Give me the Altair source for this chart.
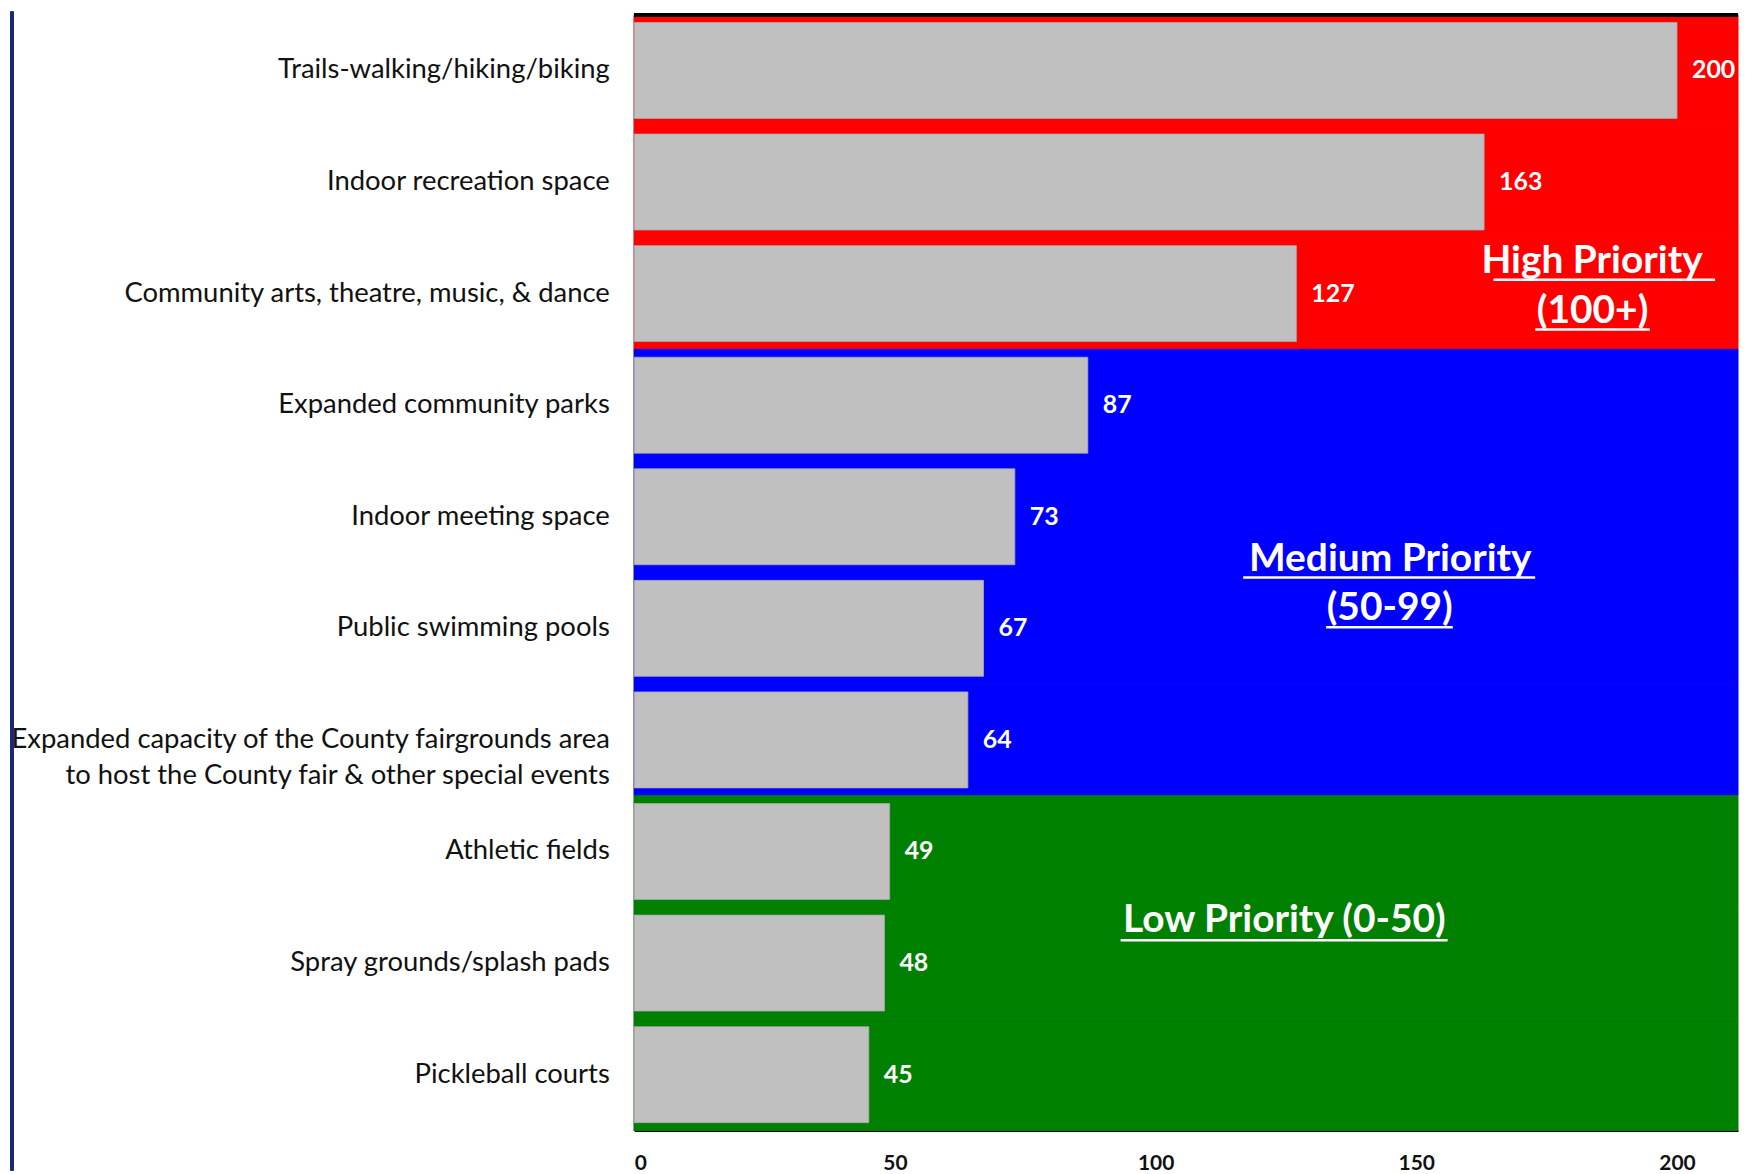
import altair as alt
import pandas as pd

# ---------------- data ----------------
categories = [
    "Trails-walking/hiking/biking",
    "Indoor recreation space",
    "Community arts, theatre, music, & dance",
    "Expanded community parks",
    "Indoor meeting space",
    "Public swimming pools",
    "Expanded capacity of the County fairgrounds area|to host the County fair & other special events",
    "Athletic fields",
    "Spray grounds/splash pads",
    "Pickleball courts",
]
values = [200, 163, 127, 87, 73, 67, 64, 49, 48, 45]
priority = ["High", "High", "High", "Medium", "Medium", "Medium", "Medium", "Low", "Low", "Low"]
priority_levels = ["High", "Medium", "Low"]
priority_colors = ["#FF0000", "#0000FF", "#008000"]
x_ticks = [0, 50, 100, 150, 200]
X_MAX = 211.7

# annotation text: (text, x centre in value units, anchor category index, pixel dy of baseline)
annot_text = [
    ("High Priority", 183.7, 2, -21),
    ("(100+)", 183.8, 2, 29),
    ("Medium Priority", 145.0, 5, -58),
    ("(50-99)", 144.9, 5, -8),
    ("Low Priority (0-50)", 124.7, 8, -31),
]
# underlines: (x start, x end, anchor category index, pixel dy)
annot_lines = [
    (164.8, 207.3, 2, -14),
    (172.8, 194.8, 2, 36),
    (116.8, 172.8, 5, -51),
    (132.7, 157.0, 5, -1),
    (93.3, 156.0, 8, -23),
]

W, H = 1107, 1119
FONT = "Lato"

df = pd.DataFrame({"cat": categories, "value": values, "priority": priority})

yenc = alt.Y(
    "cat:N",
    sort=categories,
    scale=alt.Scale(paddingInner=0, paddingOuter=0),
    axis=alt.Axis(
        title=None,
        ticks=False,
        domain=True,
        domainColor="#303030",
        domainWidth=2,
        labelPadding=25,
        labelFont=FONT,
        labelFontSize=27.5,
        labelColor="#111111",
        labelLimit=0,
        labelLineHeight=36,
        labelExpr="split(datum.label, '|')",
        minExtent=625,
        maxExtent=625,
    ),
)
xscale = alt.Scale(domain=[0, X_MAX], nice=False, zero=True)
xaxis = alt.Axis(
    title=None,
    values=x_ticks,
    ticks=False,
    grid=False,
    domainColor="black",
    domainWidth=2,
    labelFont=FONT,
    labelFontWeight="bold",
    labelFontSize=21,
    labelColor="#111111",
    labelPadding=22,
)

base = alt.Chart(df)
band_scale = alt.Scale(domain=priority_levels, range=priority_colors)

bands = base.mark_bar(opacity=1, strokeWidth=1).encode(
    y=yenc,
    x=alt.X("zero:Q", scale=xscale, axis=xaxis),
    x2=alt.datum(X_MAX),
    color=alt.Color("priority:N", scale=band_scale, legend=None),
    stroke=alt.Stroke("priority:N", scale=band_scale, legend=None),
).transform_calculate(zero="0")

bars = base.mark_bar(
    color="#C0C0C0", stroke="#A8A8A8", strokeWidth=0.8,
    height=alt.RelativeBandSize(0.86),
).encode(
    y=alt.Y("cat:N", sort=categories),
    x=alt.X("value:Q", scale=xscale),
)

labels = base.mark_text(
    align="left", baseline="middle", dx=15, color="white",
    font=FONT, fontWeight="bold", fontSize=25,
).encode(
    y=alt.Y("cat:N", sort=categories),
    x=alt.X("value:Q", scale=xscale),
    text="value:Q",
)

layers = [bands, bars, labels]

for txt, xc, ci, dy in annot_text:
    d = pd.DataFrame({"t": [txt], "x": [xc], "cat": [categories[ci]]})
    layers.append(
        alt.Chart(d).mark_text(
            align="center", baseline="alphabetic", dy=dy, color="white",
            font=FONT, fontWeight="bold", fontSize=39,
        ).encode(
            x=alt.X("x:Q", scale=xscale),
            y=alt.Y("cat:N", sort=categories),
            text="t:N",
        )
    )

for x1, x2, ci, dy in annot_lines:
    d = pd.DataFrame({"x1": [x1], "x2": [x2], "cat": [categories[ci]]})
    layers.append(
        alt.Chart(d).mark_rule(color="white", strokeWidth=2.5, yOffset=dy).encode(
            x=alt.X("x1:Q", scale=xscale),
            x2="x2:Q",
            y=alt.Y("cat:N", sort=categories),
        )
    )

# top frame line and left page border line
top_line = alt.Chart(df).mark_rule(color="black", strokeWidth=3).encode(
    x=alt.value(0), x2=alt.value(W), y=alt.value(0)
)
left_border = alt.Chart(df).mark_rule(color="#1B2A78", strokeWidth=3).encode(
    x=alt.value(-624), y=alt.value(-3), y2=alt.value(H + 40)
)
layers += [top_line, left_border]

chart = alt.layer(*layers).properties(
    width=W,
    height=H,
    padding={"left": 0, "top": 0, "right": 0, "bottom": 0},
    background="white",
).configure_view(stroke=None)

chart.save("out.html", embed_options={"renderer": "svg", "actions": False})
